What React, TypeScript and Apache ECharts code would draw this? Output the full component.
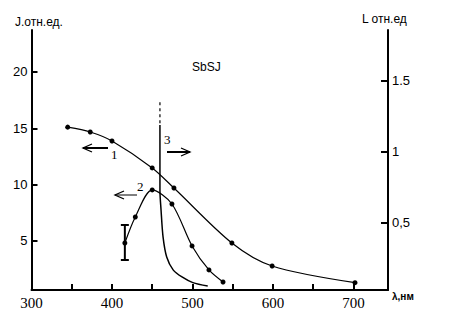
import React, { useEffect, useRef } from "react";
import * as echarts from "echarts";

const xTickLabels = [300, 400, 500, 600, 700];
const xTicks = [350, 400, 450, 500, 550, 600, 650, 700];
const leftTicks = [5, 10, 15, 20];
const rightTicks = [0.5, 1, 1.5];

// Curve 1 (J, left axis)
const wl1 = [345, 373, 400, 450, 477, 549, 599, 702];
const j1 = [15.1, 14.67, 13.87, 11.48, 9.7, 4.82, 2.78, 1.3];
// Curve 2 (J, left axis)
const wl2 = [416, 429, 450, 474.5, 499.5, 520.5, 538];
const j2 = [4.82, 7.13, 9.53, 8.28, 4.56, 2.43, 1.36];
// Curve 3 (L, right axis)
const wl3 = [459.6, 459.6, 461, 463.5, 468, 476, 487, 500.5, 519];
const l3 = [1.19, 0.73, 0.59, 0.4, 0.26, 0.17, 0.12, 0.08, 0.056];
const wl3dash = [459.6, 459.6];
const l3dash = [1.35, 1.19];
// Error bar on curve 2
const errX = [416];
const errLow = [3.31];
const errHigh = [6.42];

const zip = (a: number[], b: number[]) => a.map((v, i) => [v, b[i]]);

export default function App() {
  const ref = useRef<HTMLDivElement>(null);
  useEffect(() => {
    document.body.style.margin = "0";
    const chart = echarts.init(ref.current!, null, { renderer: "svg" });
    const black = "#000";
    const sans = "Liberation Sans";
    const serif = "Liberation Serif";
    const arrow = (x1: number, x2: number, y: number, w: number, dir: number) => [
      { type: "line", shape: { x1, y1: y, x2, y2: y }, style: { stroke: black, lineWidth: w } },
      {
        type: "polyline",
        shape: { points: [[x2 - dir * 9, y - 4], [x2, y], [x2 - dir * 9, y + 4]] },
        style: { stroke: black, lineWidth: 1.3, fill: null },
      },
    ];
    chart.setOption({
      animation: false,
      backgroundColor: "#fff",
      grid: { left: 31.5, right: 61, top: 30, bottom: 26 },
      xAxis: {
        type: "value",
        min: 300,
        max: 743,
        axisLine: { lineStyle: { color: black, width: 2 } },
        axisTick: { inside: true, length: 6, lineStyle: { color: black, width: 2 }, customValues: xTicks },
        axisLabel: { customValues: xTickLabels, color: black, fontFamily: serif, fontSize: 15, margin: 5 },
        splitLine: { show: false },
      },
      yAxis: [
        {
          type: "value",
          position: "left",
          min: 0.65,
          max: 23.72,
          axisLine: { show: true, lineStyle: { color: black, width: 2 } },
          axisTick: { show: true, inside: true, length: 6, lineStyle: { color: black, width: 2 }, customValues: leftTicks },
          axisLabel: { customValues: leftTicks, color: black, fontFamily: sans, fontSize: 13, margin: 4 },
          splitLine: { show: false },
        },
        {
          type: "value",
          position: "right",
          min: 0.028,
          max: 1.859,
          axisLine: { show: true, lineStyle: { color: black, width: 2 } },
          axisTick: { show: true, inside: true, length: 7, lineStyle: { color: black, width: 2 }, customValues: rightTicks },
          axisLabel: {
            customValues: rightTicks,
            color: black,
            fontFamily: sans,
            fontSize: 13,
            margin: 4,
            formatter: (v: number) => (v === 0.5 ? "0,5" : String(v)),
          },
          splitLine: { show: false },
        },
      ],
      series: [
        {
          type: "line",
          yAxisIndex: 0,
          data: zip(wl1, j1),
          smooth: 0.3,
          symbol: "circle",
          symbolSize: 5,
          itemStyle: { color: black },
          lineStyle: { color: black, width: 1.2 },
        },
        {
          type: "line",
          yAxisIndex: 0,
          data: zip(wl2, j2),
          smooth: 0.3,
          symbol: "circle",
          symbolSize: 5,
          itemStyle: { color: black },
          lineStyle: { color: black, width: 1.2 },
        },
        {
          type: "line",
          yAxisIndex: 1,
          data: zip(wl3, l3),
          smooth: 0.3,
          showSymbol: false,
          lineStyle: { color: black, width: 1.5 },
        },
        {
          type: "line",
          yAxisIndex: 1,
          data: zip(wl3dash, l3dash),
          showSymbol: false,
          lineStyle: { color: black, width: 1.2, type: [3, 3] },
        },
        {
          type: "custom",
          yAxisIndex: 0,
          data: errX.map((x, i) => [x, errLow[i], errHigh[i]]),
          renderItem: (params: any, api: any) => {
            const lo = api.coord([api.value(0), api.value(1)]);
            const hi = api.coord([api.value(0), api.value(2)]);
            const st = { stroke: black, lineWidth: 2 };
            return {
              type: "group",
              children: [
                { type: "line", shape: { x1: lo[0], y1: lo[1], x2: hi[0], y2: hi[1] }, style: st },
                { type: "line", shape: { x1: lo[0] - 4, y1: lo[1], x2: lo[0] + 4, y2: lo[1] }, style: st },
                { type: "line", shape: { x1: hi[0] - 4, y1: hi[1], x2: hi[0] + 4, y2: hi[1] }, style: st },
              ],
            };
          },
        },
      ],
      graphic: [
        { type: "text", x: 15, y: 16, style: { text: "J.отн.ед.", fontFamily: sans, fontSize: 12, fill: black } },
        { type: "text", x: 362, y: 13, style: { text: "L отн.ед", fontFamily: sans, fontSize: 12, fill: black } },
        { type: "text", x: 392, y: 291, style: { text: "λ,нм", fontFamily: sans, fontSize: 10, fontWeight: "bold", fill: black } },
        { type: "text", x: 192, y: 61, style: { text: "SbSJ", fontFamily: sans, fontSize: 12, fill: black } },
        { type: "text", x: 111, y: 148, style: { text: "1", fontFamily: serif, fontSize: 13, fill: black } },
        { type: "text", x: 137, y: 180, style: { text: "2", fontFamily: serif, fontSize: 13, fill: black } },
        { type: "text", x: 164, y: 133, style: { text: "3", fontFamily: serif, fontSize: 13, fill: black } },
        ...arrow(108, 83, 148, 2, -1),
        ...arrow(137, 115, 195, 1, -1),
        ...arrow(167, 190, 152, 2, 1),
      ],
    });
    return () => chart.dispose();
  }, []);
  return <div ref={ref} style={{ position: "fixed", left: 0, top: 0, width: 449, height: 316 }} />;
}
